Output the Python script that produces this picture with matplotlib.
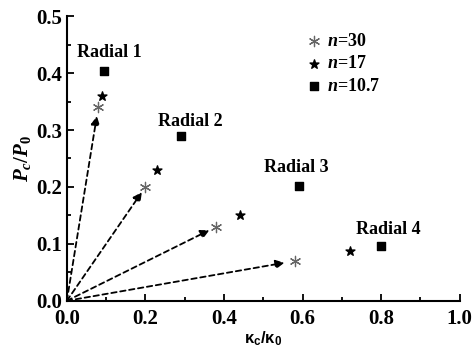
import numpy as np
import matplotlib
matplotlib.use('Agg')
import matplotlib.pyplot as plt

plt.rcParams['font.family'] = ['Liberation Serif', 'DejaVu Serif']
plt.rcParams['font.weight'] = 'bold'
plt.rcParams['mathtext.fontset'] = 'custom'
plt.rcParams['mathtext.rm'] = 'Liberation Serif:bold'
plt.rcParams['mathtext.it'] = 'Liberation Serif:italic:bold'
plt.rcParams['mathtext.bf'] = 'Liberation Serif:bold'
plt.rcParams['mathtext.sf'] = 'Liberation Sans:bold'

# 数据
k30 = [0.08, 0.20, 0.38, 0.58]
p30 = [0.34, 0.20, 0.13, 0.07]
k17 = [0.09, 0.23, 0.44, 0.72]
p17 = [0.36, 0.23, 0.15, 0.087]
k107 = [0.095, 0.29, 0.59, 0.80]
p107 = [0.403, 0.29, 0.202, 0.097]
radial_names = ['Radial 1', 'Radial 2', 'Radial 3', 'Radial 4']
radial_x = [0.109, 0.313, 0.583, 0.817]
radial_y = [0.437, 0.315, 0.234, 0.126]

fig = plt.figure(figsize=(4.74, 3.51), dpi=100)
ax = fig.add_axes([0.141, 0.143, 0.829, 0.811])

# 虚线箭头
for x, y in zip(k30, p30):
    ax.annotate('', xy=(x * 0.955, y * 0.955), xytext=(0, 0),
                arrowprops=dict(arrowstyle='-|>', color='black', lw=1.3,
                                linestyle=(0, (3, 2)), mutation_scale=13,
                                shrinkA=0, shrinkB=0))

ax.scatter(k30, p30, marker=(6, 2, 0), s=55, color='#666666', linewidths=0.9, label=r'$n$=30', zorder=3)
ax.scatter(k17, p17, marker='*', s=45, color='black', label=r'$n$=17', zorder=3)
ax.scatter(k107, p107, marker='s', s=30, color='black', label=r'$n$=10.7', zorder=3)

for name, x, y in zip(radial_names, radial_x, radial_y):
    ax.text(x, y, name, ha='center', va='center', fontsize=13, fontweight='bold')

ax.legend(loc='upper left', bbox_to_anchor=(0.57, 0.985), frameon=False, fontsize=13,
          handletextpad=0.1, labelspacing=0.3, borderpad=0.2, handlelength=1.2)

ax.set_xlim(0, 1.0)
ax.set_ylim(0, 0.5)
ax.set_xticks(np.arange(0, 1.01, 0.2))
ax.set_yticks(np.arange(0, 0.51, 0.1))
ax.set_xticks(np.arange(0.1, 1.0, 0.2), minor=True)
ax.set_yticks(np.arange(0.05, 0.5, 0.1), minor=True)
ax.xaxis.set_major_formatter(plt.FormatStrFormatter('%.1f'))
ax.yaxis.set_major_formatter(plt.FormatStrFormatter('%.1f'))
ax.tick_params(which='both', direction='in', width=1.3, labelsize=15)
ax.tick_params(which='major', length=5)
ax.tick_params(which='minor', length=3)
ax.tick_params(axis='x', which='major', pad=6)
for lbl in ax.get_xticklabels() + ax.get_yticklabels():
    lbl.set_fontweight('bold')

ax.spines['top'].set_visible(False)
ax.spines['right'].set_visible(False)
ax.spines['left'].set_linewidth(1.5)
ax.spines['bottom'].set_linewidth(1.5)

ax.set_xlabel(r'$\mathsf{\kappa_c/\kappa_0}$', fontsize=12, labelpad=0)
ax.set_ylabel(r'$P_c/P_0$', fontsize=15, labelpad=2)

plt.savefig('out.png', dpi=100)
